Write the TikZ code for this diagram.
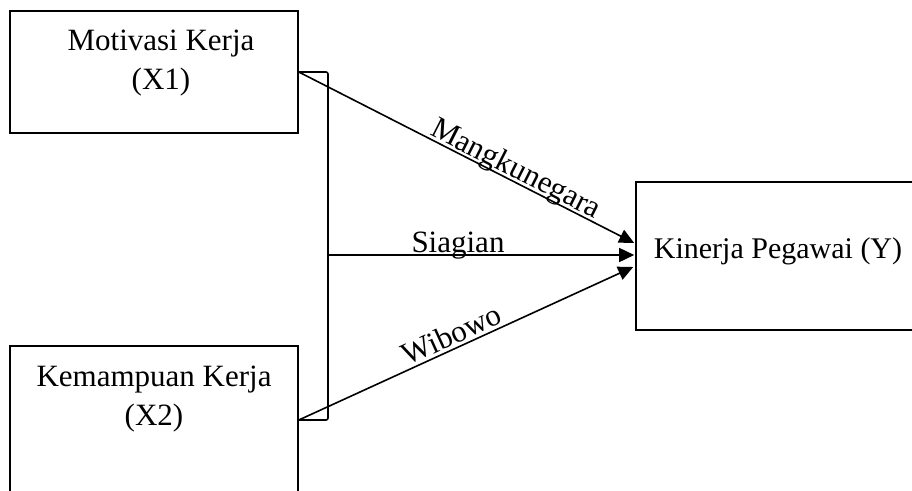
\documentclass[tikz,border=0pt]{standalone}
\usepackage{fontspec}
\setmainfont{Liberation Serif}
\usetikzlibrary{arrows.meta,calc}
\tikzset{
  box/.style={draw=black, line width=1.6pt, minimum width=288pt, inner sep=0pt},
  conn/.style={line width=1.6pt},
  arr/.style={conn, -{Triangle[length=15pt 0 0,width=14pt 0 0]}},
  lbl/.style={font=\fontsize{31}{38}\selectfont, inner sep=0pt, anchor=base},
}
\begin{document}
\begin{tikzpicture}[x=1pt,y=-1pt]
  \useasboundingbox (0,0) rectangle (912,490);
  \clip (0,0) rectangle (912,490);

  % boxes
  \node[box, minimum height=122pt] (X1) at (154,72) {};
  \node[box, minimum height=148pt] (X2) at (154,420) {};
  \node[box, minimum width=286pt, minimum height=148pt] (Y) at (779,256) {};

  % box texts
  \node[lbl] (t1a) at (161,50) {Motivasi Kerja};
  \node[lbl] (t1b) at (161,89) {(X1)};
  \node[lbl] (t2a) at (154,386) {Kemampuan Kerja};
  \node[lbl] (t2b) at (154,425) {(X2)};
  \node[lbl, font=\fontsize{30}{36}\selectfont] (ty) at (778,258) {Kinerja Pegawai (Y)};

  % bracket joining both variables
  \coordinate (bt) at (328,72);
  \coordinate (bm) at (328,255);
  \coordinate (bb) at (328,420);
  \draw[conn, rounded corners=2pt] (X1.east) -- (bt) -- (bb) -- (X2.east);

  % arrows into Y
  \draw[arr] (X1.east) -- ($(Y.west)+(-1,-13)$);
  \draw[arr] (bm) -- ($(Y.west)+(-1,-1)$);
  \draw[arr] (X2.east) -- ($(Y.west)+(-2,11)$);

  % arrow labels
  \node[lbl, rotate=-26.9] (lm) at (512,177) {Mangkunegara};
  \node[lbl] (ls) at (458,252) {Siagian};
  \node[lbl, rotate=24.5] (lw) at (456,344) {Wibowo};
\end{tikzpicture}
\end{document}
